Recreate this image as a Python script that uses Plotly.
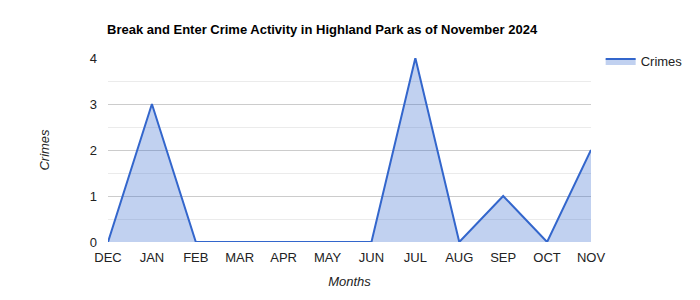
import plotly.graph_objects as go

months = ["DEC", "JAN", "FEB", "MAR", "APR", "MAY", "JUN", "JUL", "AUG", "SEP", "OCT", "NOV"]
crimes = [0, 3, 0, 0, 0, 0, 0, 4, 0, 1, 0, 2]
y_ticks = [0, 1, 2, 3, 4]

x_idx = list(range(len(months)))

fig = go.Figure()
fig.add_trace(go.Scatter(
    x=x_idx, y=crimes, name="Crimes", mode="lines",
    line=dict(color="#3366cc", width=2),
    fill="tozeroy", fillcolor="rgba(51,102,204,0.3)",
))

fig.update_layout(
    width=700, height=300,
    margin=dict(l=108, r=107, t=58, b=58),
    paper_bgcolor="white", plot_bgcolor="white",
    font=dict(family="Arial, Liberation Sans, sans-serif", size=13, color="#222222"),
    title=dict(text="<b>Break and Enter Crime Activity in Highland Park as of November 2024</b>",
               x=107/700, xanchor="left", y=1-29/300, yanchor="middle",
               font=dict(size=13, color="#000000")),
    showlegend=True,
    legend=dict(x=1.02, xanchor="left", y=1.065, yanchor="top",
                font=dict(size=13, color="#222222"), bgcolor="rgba(0,0,0,0)"),
    xaxis=dict(
        range=[0, 11], tickmode="array", tickvals=x_idx, ticktext=months,
        showgrid=False, zeroline=False, showline=False, ticks="",
        ticklabelstandoff=6,
        title=dict(text="<i>Months</i>", standoff=12, font=dict(size=13, color="#222222")),
    ),
    yaxis=dict(
        range=[0, 4], tickmode="array", tickvals=y_ticks,
        showgrid=True, gridcolor="#cccccc", zeroline=False, showline=False, ticks="",
        minor=dict(dtick=0.5, showgrid=True, gridcolor="#ebebeb"),
        ticklabelstandoff=10,
        title=dict(text="<i>Crimes</i>", standoff=37, font=dict(size=13, color="#222222")),
    ),
)

fig.write_html("out.html")
